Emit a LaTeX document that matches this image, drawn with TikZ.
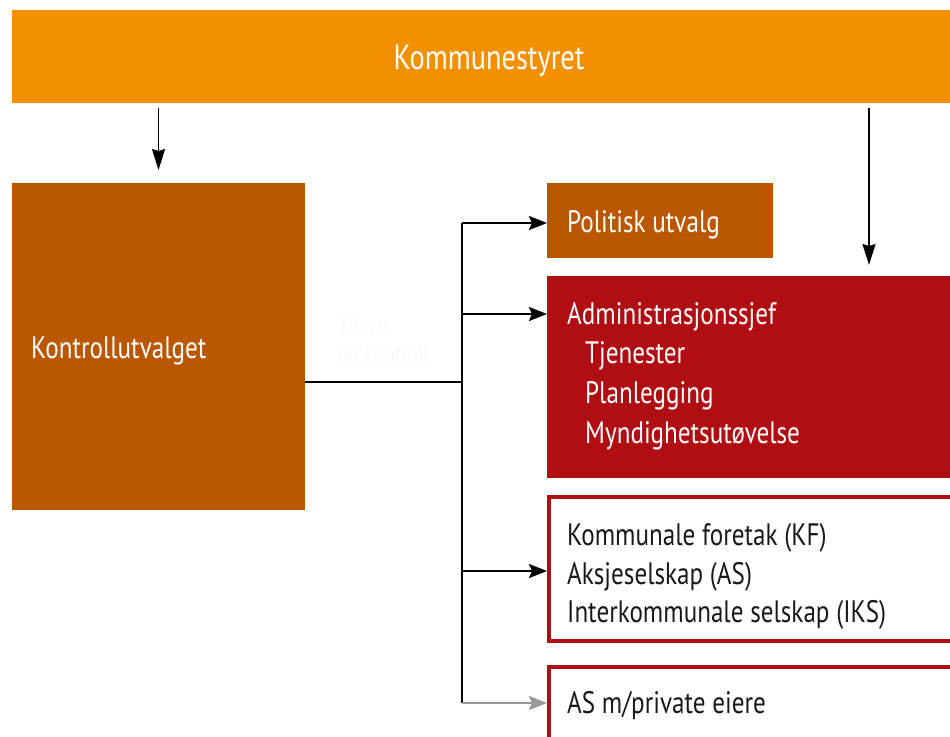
\documentclass[tikz,border=0pt]{standalone}
\usepackage{fontspec}
\setmainfont{PT Sans}[FakeStretch=0.81]
\usetikzlibrary{arrows.meta}
\definecolor{komorange}{HTML}{F29000}
\definecolor{kombrown}{HTML}{BA5700}
\definecolor{komred}{HTML}{B00E12}
\definecolor{faint}{HTML}{F9F9F9}
\begin{document}
\begin{tikzpicture}[x=1pt,y=-1pt,
  box/.style={rectangle,inner sep=0pt,outer sep=0pt,anchor=north west,draw=none},
  linebox/.style={rectangle,inner sep=0pt,outer sep=0pt,anchor=north west,draw=komred,line width=4pt,fill=white},
  txt/.style={inner sep=0pt,anchor=base west,font=\fontsize{31}{40}\selectfont},
  wtxt/.style={txt,text=white},
  btxt/.style={txt,text=black!90},
  varr/.style={draw=black,line width=1.8pt,-{Stealth[length=21pt,width=13pt,inset=2pt]}},
  harr/.style={draw=black,line width=2.4pt,-{Stealth[length=18pt,width=14pt,inset=3pt]}},
  garr/.style={draw=black!40,line width=2.4pt,-{Stealth[length=18pt,width=14pt,inset=3pt]}},
  conn/.style={draw=black,line width=2.4pt}]
\useasboundingbox (0,0) rectangle (950,736);
\fill[white] (0,0) rectangle (950,736);
% boxes
\node[box,fill=komorange,minimum width=948pt,minimum height=92.7pt] (kom) at (12,10) {};
\node[box,fill=kombrown,minimum width=293pt,minimum height=327pt] (kon) at (12,183) {};
\node[box,fill=kombrown,minimum width=226pt,minimum height=75pt] (pol) at (547,183) {};
\node[box,fill=komred,minimum width=413pt,minimum height=202pt] (adm) at (547,276) {};
\node[linebox,minimum width=411pt,minimum height=144pt] (kf) at (549,497) {};
\node[linebox,minimum width=411pt,minimum height=100pt] (as) at (549,667) {};
% texts
\node[wtxt,anchor=base,font=\fontsize{35}{40}\selectfont] (komt) at (489,69) {Kommunestyret};
\node[wtxt] (kont) at (31,358) {Kontrollutvalget};
\node[wtxt] (polt) at (567,232) {Politisk utvalg};
\node[wtxt] (adm1) at (567,324) {Administrasjonssjef};
\node[wtxt] (adm2) at (585,363) {Tjenester};
\node[wtxt] (adm3) at (585,403) {Planlegging};
\node[wtxt] (adm4) at (585,443) {Myndighetsutøvelse};
\node[btxt] (kf1) at (567,545) {Kommunale foretak (KF)};
\node[btxt] (kf2) at (567,584) {Aksjeselskap (AS)};
\node[btxt] (kf3) at (567,622) {Interkommunale selskap (IKS)};
\node[btxt] (ast) at (567,713) {AS m/private eiere};
\node[txt,text=faint,font=\fontsize{24}{30}\selectfont] (ts1) at (338,332) {Tilsyn};
\node[txt,text=faint,font=\fontsize{24}{30}\selectfont] (ts2) at (338,362) {og kontroll};
% connectors
\coordinate (rx) at (869,0);
\draw[varr,shorten <=5pt,shorten >=13pt] (kom.south -| kon.north) -- (kon.north);
\draw[varr,shorten <=5pt,shorten >=11pt] (kom.south -| rx) -- (adm.north -| rx);
\coordinate (j0) at (462,382);
\coordinate (b1) at (462,223);
\coordinate (b2) at (462,314);
\coordinate (b3) at (462,571);
\coordinate (b4) at (462,703);
\draw[conn] (kon.east |- j0) -- (j0);
\draw[conn] (b1) -- (b4);
\draw[harr] (b1) -- (b1 -| pol.west);
\draw[harr] (b2) -- (b2 -| adm.west);
\draw[harr,shorten >=2pt] (b3) -- (b3 -| kf.west);
\draw[garr,shorten >=2pt] (b4) -- (b4 -| as.west);
\end{tikzpicture}
\end{document}
